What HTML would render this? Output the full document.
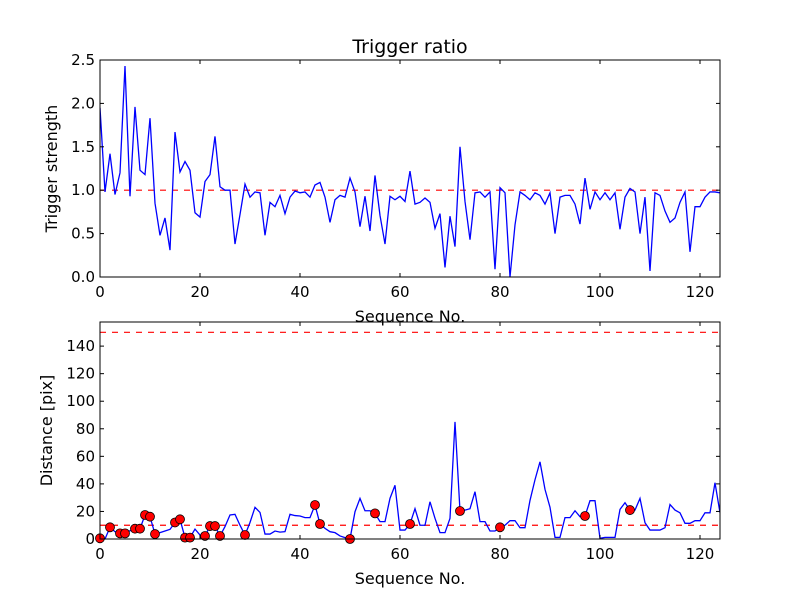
<!DOCTYPE html>
<html><head><meta charset="utf-8"><style>
html,body{margin:0;padding:0;background:#fff}
svg{display:block}
text{font-family:"DejaVu Sans","Liberation Sans",sans-serif;fill:#000}
</style></head><body>
<svg id="fig" width="800" height="600" viewBox="0 0 800 600"></svg>
<script>
const ratioValues=[1.95,0.98,1.42,0.95,1.2,2.43,0.93,1.96,1.23,1.18,1.83,0.85,0.48,0.68,0.31,1.67,1.21,1.33,1.23,0.74,0.69,1.1,1.18,1.62,1.04,1.0,1.0,0.38,0.72,1.07,0.92,0.98,0.97,0.48,0.86,0.81,0.94,0.73,0.92,0.99,0.97,0.98,0.92,1.06,1.09,0.92,0.63,0.89,0.94,0.92,1.14,0.98,0.58,0.93,0.53,1.17,0.71,0.38,0.93,0.89,0.93,0.87,1.22,0.84,0.86,0.91,0.86,0.56,0.73,0.11,0.7,0.35,1.5,0.87,0.43,0.97,0.98,0.92,0.98,0.09,1.03,0.97,0,0.6,0.98,0.94,0.89,0.97,0.94,0.84,0.97,0.5,0.92,0.94,0.94,0.84,0.61,1.14,0.78,0.98,0.89,0.97,0.89,0.97,0.55,0.92,1.02,0.98,0.5,0.92,0.07,0.97,0.94,0.76,0.63,0.68,0.86,0.98,0.29,0.81,0.81,0.92,0.98,0.98,0.97];
const distValues=[0.5,0,8.5,5.3,4.1,4.1,6,7.5,7.5,17.4,16.2,3.6,4.6,5.8,7,12,14.3,1,1,7.2,2.9,2.2,9.4,9.4,2.2,9,17.4,17.9,10,2.9,12,23,19.3,3.6,3.6,5.8,5,5.3,17.9,17,16.7,15.5,15.5,24.7,10.9,7.7,5.3,4.6,2.2,1,0,19.8,29.5,20.5,20.5,18.6,12.6,12.6,29.5,39,6.5,6.5,10.9,22,10,10,27,15,4.6,4.6,15,85,20.3,21,22,34.3,12.6,12.6,5.8,5.8,8.5,10,13.3,13.3,8.2,8.2,28,43,56,36,23,1.2,1.2,15.5,15.5,20.5,16.2,16.7,27.8,27.8,0.5,1.2,1.2,1.2,21.5,26.3,21,21,29.5,11.8,6.5,6.5,6.5,8.2,25,21,19,11.4,11.4,13.3,13.3,19,19,40.8,19];
const markerIdx=[0,2,4,5,7,8,9,10,11,15,16,17,18,21,22,23,24,29,43,44,50,55,62,72,80,97,106];
const xTicks=[0,20,40,60,80,100,120];
const ratioTicks=[0,0.5,1,1.5,2,2.5];
const distTicks=[0,20,40,60,80,100,120,140];
const ratioRef=[1];
const distRef=[10,150];

const NS="http://www.w3.org/2000/svg";
const svg=document.getElementById('fig');
function mk(tag,attrs,parent){const e=document.createElementNS(NS,tag);for(const k in attrs)e.setAttribute(k,attrs[k]);(parent||svg).appendChild(e);return e;}
const L=100,R=720;
const xs=v=>L+(v-0)/(124-0)*(R-L);

function panel(top,bot,ymax,vals,ticks,refs,fmt,ylabel,name){
  const ys=v=>bot-(v/ymax)*(bot-top);
  const g=mk('g',{});
  
  
  const clipId='clip-'+name;
  const cp=mk('clipPath',{id:clipId},g);
  mk('rect',{x:L,y:top,width:R-L,height:bot-top},cp);
  refs.forEach(r=>{
    const l=mk('line',{x1:L,x2:R,y1:ys(r),y2:ys(r),stroke:'#ff0000','stroke-width':1.2,'stroke-dasharray':'6,6'},g);
    
    
  });
  const pts=vals.map((v,i)=>xs(i).toFixed(2)+','+ys(v).toFixed(2)).join(' ');
  const pl=mk('polyline',{points:pts,fill:'none',stroke:'#0000ff','stroke-width':1.3,'clip-path':'url(#'+clipId+')'},g);
  
  
  return {g,ys};
}
function frame(g,top,bot,ymax,ticks,fmt,ys,ylabel,ylx){
  mk('rect',{x:L,y:top,width:R-L,height:bot-top,fill:'none',stroke:'#000','stroke-width':1},g);
  xTicks.forEach(t=>{
    const x=xs(t);
    mk('line',{x1:x,x2:x,y1:bot,y2:bot-4,stroke:'#000'},g);
    mk('line',{x1:x,x2:x,y1:top,y2:top+4,stroke:'#000'},g);
    const tx=mk('text',{x:x,y:bot+20,'font-size':15,'text-anchor':'middle'},g);
    tx.textContent=t;
    
    
  });
  ticks.forEach(t=>{
    const y=ys(t);
    mk('line',{x1:L,x2:L+4,y1:y,y2:y,stroke:'#000'},g);
    mk('line',{x1:R,x2:R-4,y1:y,y2:y,stroke:'#000'},g);
    const ty=mk('text',{x:L-5,y:y+5,'font-size':15,'text-anchor':'end'},g);
    ty.textContent=fmt(t);
    
    
  });
  const yl=mk('text',{x:0,y:0,'font-size':16,'text-anchor':'middle',transform:'translate('+ylx+','+((top+bot)/2)+') rotate(-90)'},g);
  yl.textContent=ylabel;
  
  
  const xl=mk('text',{x:(L+R)/2,y:bot+45,'font-size':16,'text-anchor':'middle'},g);
  xl.textContent='Sequence No.';
  
  
}
const p1=panel(60,277,2.5,ratioValues,ratioTicks,ratioRef,null,null,'trigger-ratio-plot');
frame(p1.g,60,277,2.5,ratioTicks,t=>t.toFixed(1),p1.ys,'Trigger strength',57);
const title=mk('text',{x:410,y:53,'font-size':19,'text-anchor':'middle'});
title.textContent='Trigger ratio';



const p2=panel(322,539,157.5,distValues,distTicks,distRef,null,null,'distance-plot');
markerIdx.forEach(i=>{
  const c=mk('circle',{cx:xs(i),cy:p2.ys(distValues[i]),r:4.5,fill:'#ff0000',stroke:'#000','stroke-width':0.8},p2.g);
  
  
});
frame(p2.g,322,539,157.5,distTicks,t=>String(t),p2.ys,'Distance [pix]',52);
</script>
</body></html>
